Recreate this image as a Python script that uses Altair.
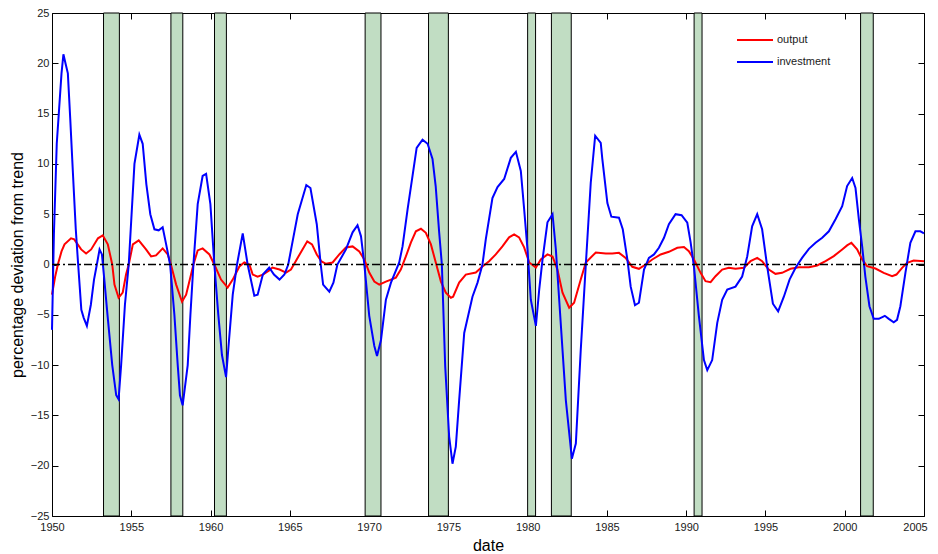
import altair as alt
import pandas as pd

# ---------------- data ----------------
X_MIN, X_MAX = 1950, 2005
Y_MIN, Y_MAX = -25, 25

rec_start = [1953.25, 1957.5, 1960.25, 1969.75, 1973.75, 1980.0, 1981.5, 1990.5, 2001.0]
rec_end = [1954.25, 1958.25, 1961.0, 1970.75, 1975.0, 1980.5, 1982.75, 1991.0, 2001.8]

inv_year = [1950.0, 1950.12, 1950.3, 1950.45, 1950.6, 1950.72, 1950.85, 1951.0, 1951.15, 1951.31,
            1951.5, 1951.65, 1951.85, 1952.0, 1952.2, 1952.45, 1952.65, 1952.83, 1953.0, 1953.15,
            1953.3, 1953.5, 1953.8, 1954.05, 1954.2, 1954.36, 1954.6, 1954.84, 1955.2, 1955.51,
            1955.72, 1955.95, 1956.2, 1956.46, 1956.73, 1956.98, 1957.2, 1957.45, 1957.72, 1957.93,
            1958.07, 1958.24, 1958.56, 1958.73, 1958.92, 1959.19, 1959.5, 1959.72, 1959.99, 1960.24,
            1960.49, 1960.72, 1960.98, 1961.14, 1961.4, 1961.67, 1962.03, 1962.34, 1962.76, 1962.97,
            1963.3, 1963.7, 1964.0, 1964.35, 1964.66, 1964.9, 1965.2, 1965.5, 1966.04, 1966.3,
            1966.7, 1966.95, 1967.1, 1967.49, 1967.75, 1968.0, 1968.54, 1968.96, 1969.27, 1969.49,
            1969.7, 1970.01, 1970.33, 1970.5, 1970.75, 1971.06, 1971.38, 1971.9, 1972.11, 1972.43,
            1972.74, 1973.0, 1973.37, 1973.69, 1974.0, 1974.2, 1974.42, 1974.59, 1974.8, 1975.05,
            1975.26, 1975.47, 1975.68, 1976.0, 1976.52, 1976.84, 1977.15, 1977.36, 1977.78, 1978.1,
            1978.52, 1978.94, 1979.26, 1979.57, 1979.78, 1979.99, 1980.2, 1980.52, 1980.73, 1980.94,
            1981.25, 1981.57, 1981.78, 1981.99, 1982.41, 1982.79, 1983.04, 1983.35, 1983.67, 1983.98,
            1984.26, 1984.61, 1984.71, 1985.03, 1985.28, 1985.76, 1986.0, 1986.29, 1986.5, 1986.77,
            1987.02, 1987.34, 1987.65, 1987.97, 1988.28, 1988.6, 1988.91, 1989.33, 1989.71, 1990.07,
            1990.28, 1990.49, 1990.8, 1991.12, 1991.33, 1991.64, 1991.96, 1992.27, 1992.59, 1993.11,
            1993.53, 1993.85, 1994.16, 1994.48, 1994.79, 1995.11, 1995.47, 1995.8, 1996.16, 1996.52,
            1996.9, 1997.31, 1997.74, 1998.16, 1998.58, 1999.0, 1999.42, 1999.84, 2000.15, 2000.47,
            2000.68, 2000.89, 2001.1, 2001.3, 2001.56, 2001.83, 2002.15, 2002.53, 2002.78, 2003.09,
            2003.3, 2003.51, 2003.83, 2004.14, 2004.46, 2004.77, 2005.0]
inv_value = [-6.5, 3.0, 12.0, 15.5, 19.0, 20.9, 20.0, 19.0, 14.5, 9.4,
             3.5, 0.0, -4.5, -5.3, -6.1, -4.0, -1.5, 0.0, 1.5, 1.0,
             -1.5, -5.0, -10.0, -13.0, -13.4, -10.0, -4.0, 0.0, 10.0, 12.9,
             12.0, 8.0, 5.0, 3.5, 3.4, 3.7, 2.0, 0.0, -5.0, -10.0,
             -13.0, -14.0, -10.0, -5.0, 0.0, 6.0, 8.8, 9.0, 6.0, 0.0,
             -5.0, -9.0, -11.2, -8.0, -3.0, 0.0, 3.1, 0.0, -3.1, -3.0,
             -1.0, -0.3, -1.0, -1.5, -1.0, 0.0, 2.5, 5.0, 7.9, 7.6,
             4.0, 0.0, -2.0, -2.7, -1.8, 0.0, 1.5, 3.2, 3.9, 2.8,
             0.0, -5.1, -8.1, -9.1, -7.5, -3.5, -1.8, 0.2, 1.8, 5.5,
             8.8, 11.6, 12.4, 12.0, 10.5, 7.8, 3.2, 0.0, -10.1, -17.1,
             -19.8, -18.1, -13.5, -6.8, -3.2, -1.8, 0.0, 2.5, 6.6, 7.7,
             8.5, 10.6, 11.2, 9.3, 5.5, 1.5, -3.5, -6.1, -2.5, 0.5,
             4.2, 5.0, 1.5, -3.5, -13.5, -19.3, -17.8, -8.5, 0.0, 8.1,
             12.8, 12.1, 10.5, 6.1, 4.75, 4.65, 3.5, 0.5, -2.2, -4.05,
             -3.8, -0.5, 0.66, 1.0, 1.66, 2.66, 4.0, 5.0, 4.9, 4.15,
             2.2, -0.2, -5.1, -9.5, -10.5, -9.5, -5.8, -3.5, -2.5, -2.2,
             -1.2, 0.8, 3.8, 5.0, 3.5, -0.2, -3.9, -4.65, -3.2, -1.5,
             -0.33, 0.66, 1.56, 2.16, 2.66, 3.3, 4.5, 5.8, 7.8, 8.6,
             7.6, 4.5, 1.8, -1.2, -4.15, -5.4, -5.4, -5.1, -5.4, -5.75,
             -5.5, -4.15, -0.8, 2.16, 3.3, 3.3, 3.1]

out_year = [1950.0, 1950.2, 1950.37, 1950.6, 1950.79, 1951.2, 1951.4, 1951.84, 1952.15, 1952.47,
            1952.9, 1953.2, 1953.52, 1953.8, 1953.94, 1954.2, 1954.46, 1954.67, 1954.84, 1955.1,
            1955.47, 1955.93, 1956.25, 1956.56, 1956.98, 1957.3, 1957.5, 1957.83, 1958.2, 1958.46,
            1958.77, 1958.92, 1959.19, 1959.5, 1959.93, 1960.24, 1960.66, 1961.08, 1961.4, 1961.82,
            1962.13, 1962.45, 1962.66, 1962.97, 1963.3, 1963.7, 1963.9, 1964.35, 1964.76, 1965.07,
            1965.4, 1965.8, 1966.1, 1966.4, 1966.7, 1967.0, 1967.28, 1967.7, 1968.12, 1968.54,
            1968.96, 1969.38, 1969.7, 1970.01, 1970.33, 1970.64, 1971.06, 1971.69, 1972.0, 1972.32,
            1972.64, 1972.95, 1973.27, 1973.58, 1973.9, 1974.21, 1974.53, 1974.84, 1975.16, 1975.3,
            1975.68, 1976.1, 1976.73, 1977.15, 1977.57, 1977.99, 1978.41, 1978.83, 1979.15, 1979.46,
            1979.78, 1980.1, 1980.52, 1980.83, 1981.25, 1981.57, 1981.88, 1982.2, 1982.62, 1982.93,
            1983.35, 1983.67, 1984.3, 1984.93, 1985.34, 1985.76, 1986.18, 1986.6, 1987.02, 1987.44,
            1987.86, 1988.39, 1988.91, 1989.44, 1989.86, 1990.17, 1990.49, 1990.91, 1991.22, 1991.54,
            1991.85, 1992.27, 1992.69, 1993.11, 1993.64, 1994.06, 1994.48, 1994.79, 1995.21, 1995.63,
            1996.05, 1996.58, 1997.1, 1997.74, 1998.26, 1998.79, 1999.31, 1999.84, 2000.15, 2000.42,
            2000.78, 2001.1, 2001.41, 2001.94, 2002.46, 2002.99, 2003.26, 2003.62, 2003.93, 2004.35,
            2005.0]
out_value = [-3.0, -1.2, 0.0, 1.3, 2.0, 2.6, 2.5, 1.5, 1.1, 1.5,
             2.6, 2.9, 2.0, 0.0, -2.0, -3.3, -2.8, -1.0, 0.0, 2.0,
             2.4, 1.5, 0.8, 0.9, 1.6, 1.0, 0.0, -2.0, -3.7, -3.0,
             -1.0, 0.0, 1.4, 1.6, 1.0, 0.0, -1.5, -2.3, -1.5, -0.2,
             0.2, 0.0, -1.0, -1.2, -1.0, -0.6, -0.3, -0.5, -0.8, -0.5,
             0.4, 1.5, 2.3, 2.0, 1.0, 0.3, 0.07, 0.2, 1.0, 1.7,
             1.8, 1.3, 0.5, -0.8, -1.7, -2.0, -1.7, -1.3, -0.5, 0.8,
             2.2, 3.3, 3.55, 3.15, 2.0, 0.17, -1.7, -2.8, -3.3, -3.2,
             -1.8, -1.0, -0.8, -0.2, 0.33, 1.0, 1.8, 2.7, 3.0, 2.7,
             1.7, 0.2, -0.3, 0.5, 1.0, 0.8, -0.5, -2.8, -4.3, -3.8,
             -1.5, 0.2, 1.2, 1.1, 1.1, 1.16, 0.66, -0.23, -0.43, 0.0,
             0.5, 1.0, 1.26, 1.66, 1.73, 1.33, 0.5, -0.83, -1.66, -1.76,
             -1.16, -0.5, -0.33, -0.43, -0.33, 0.33, 0.66, 0.33, -0.5, -0.93,
             -0.83, -0.43, -0.27, -0.27, -0.1, 0.33, 0.83, 1.5, 1.9, 2.16,
             1.5, 0.5, -0.17, -0.4, -0.83, -1.16, -1.0, -0.33, 0.17, 0.4,
             0.33]

series_names = ["output", "investment"]
series_colors = ["#ff0000", "#0000ff"]
x_ticks = list(range(1950, 2006, 5))
y_ticks = list(range(-25, 26, 5))

# ---------------- tables ----------------
bands = pd.DataFrame({"start": rec_start, "end": rec_end,
                      "lo": [Y_MIN] * len(rec_start), "hi": [Y_MAX] * len(rec_start)})
out_df = pd.DataFrame({"year": out_year, "value": out_value, "series": "output"})
inv_df = pd.DataFrame({"year": inv_year, "value": inv_value, "series": "investment"})
zero_df = pd.DataFrame({"y": [0]})

FONT = "Liberation Sans"
W, H = 872, 503

xscale = alt.Scale(domain=[X_MIN, X_MAX], nice=False, zero=False)
yscale = alt.Scale(domain=[Y_MIN, Y_MAX], nice=False, zero=False)

common_axis = dict(domain=False, grid=False, offset=-6, tickSize=6, tickColor="black",
                   tickWidth=1, labelFont=FONT, labelFontSize=11, labelColor="#1a1a1a",
                   titleFont=FONT, titleFontSize=16, titleFontWeight="normal", titleColor="black")

bottom_axis = alt.Axis(orient="bottom", values=x_ticks, format="d", labelPadding=5,
                       title="date", titlePadding=5, labelFlush=False,
                       labelOffset={"condition": {"test": f"datum.value == {X_MAX}", "value": -9},
                                    "value": 0},
                       **common_axis)
left_axis = alt.Axis(orient="left", values=y_ticks, format="d", labelPadding=3,
                     title="percentage deviation from trend", titlePadding=5, **common_axis)
top_axis = alt.Axis(orient="top", values=x_ticks, labels=False, title=None, **common_axis)
right_axis = alt.Axis(orient="right", values=y_ticks, labels=False, title=None, **common_axis)

color = alt.Color("series:N",
                  scale=alt.Scale(domain=series_names, range=series_colors),
                  legend=alt.Legend(orient="none", legendX=696, legendY=20, title=None,
                                    symbolType="M-3,0H3", symbolSize=144, symbolStrokeWidth=2,
                                    labelFont=FONT, labelFontSize=11, labelColor="#1a1a1a",
                                    labelOffset=15, rowPadding=10, padding=0))

band_layer = alt.Chart(bands).mark_rect(fill="#c1ddc3", stroke="black", strokeWidth=1).encode(
    x=alt.X("start:Q", scale=xscale, axis=bottom_axis),
    x2="end:Q",
    y=alt.Y("lo:Q", scale=yscale, axis=left_axis),
    y2="hi:Q",
)

out_layer = alt.Chart(out_df).mark_line(strokeWidth=2).encode(
    x=alt.X("year:Q", scale=xscale, axis=None),
    y=alt.Y("value:Q", scale=yscale, axis=None),
    color=color,
)
inv_layer = alt.Chart(inv_df).mark_line(strokeWidth=2).encode(
    x=alt.X("year:Q", scale=xscale, axis=None),
    y=alt.Y("value:Q", scale=yscale, axis=None),
    color=color,
)

zero_layer = alt.Chart(zero_df).mark_rule(color="black", strokeWidth=1.5,
                                           strokeDash=[8, 3, 2, 3]).encode(
    y=alt.Y("y:Q", scale=yscale, axis=None)
)

frame_layer = alt.Chart(out_df).mark_point(opacity=0).encode(
    x=alt.X("year:Q", scale=xscale, axis=top_axis),
    y=alt.Y("value:Q", scale=yscale, axis=right_axis),
)

chart = alt.layer(band_layer, out_layer, inv_layer, zero_layer, frame_layer).resolve_axis(
    x="independent", y="independent"
).properties(
    width=W, height=H,
    autosize=alt.AutoSizeParams(type="none"),
    padding={"left": 44, "top": 5, "right": 6, "bottom": 38},
    background="white",
).configure_view(stroke="black", strokeWidth=1)

chart.save("out.html", embed_options={"renderer": "svg", "actions": False})
